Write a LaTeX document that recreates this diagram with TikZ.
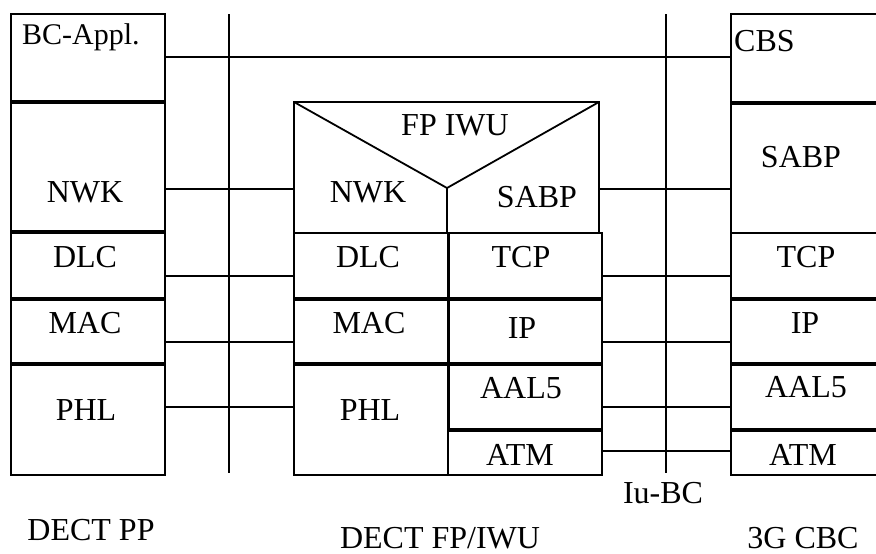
\documentclass[tikz,border=0pt]{standalone}
\usepackage{fontspec}
\setmainfont{Liberation Serif}
\usetikzlibrary{positioning, calc}

\begin{document}
\begin{tikzpicture}[
    x = 1pt, y = -1pt,
    layer/.style = {
      rectangle, draw, line width = 1.6pt, inner sep = 0pt, outer sep = 0pt,
      anchor = north west
    },
    ppcol/.style = {layer, minimum width = 154pt},
    fpcol/.style = {layer, minimum width = 154pt},
    cbcol/.style = {layer, minimum width = 200pt},
    lbl/.style = {
      inner sep = 0pt, anchor = base, font = \fontsize{32}{38}\selectfont
    },
    link/.style = {line width = 1.4pt},
    sep/.style = {line width = 3.6pt},
    ]

    \clip (0,0) rectangle (876,554);

    % DECT PP stack
    \node  [ppcol, minimum height = 88pt]  (ppBC)  at (11,14)  {};
    \node  [ppcol, minimum height = 130pt, below = 0pt of ppBC]  (ppNWK)  {};
    \node  [ppcol, minimum height = 67pt, below = 0pt of ppNWK]  (ppDLC)  {};
    \node  [ppcol, minimum height = 65pt, below = 0pt of ppDLC]  (ppMAC)  {};
    \node  [ppcol, minimum height = 111pt, below = 0pt of ppMAC]  (ppPHL)  {};

    % DECT FP/IWU stack
    \node  [layer, minimum width = 305pt, minimum height = 131pt]  (fpIWU)  at (294,102)  {};
    \node  [fpcol, minimum height = 66pt]  (fpDLC)  at (294,233)  {};
    \node  [fpcol, minimum height = 65pt, below = 0pt of fpDLC]  (fpMAC)  {};
    \node  [fpcol, minimum height = 111pt, below = 0pt of fpMAC]  (fpPHL)  {};
    \node  [fpcol, minimum height = 66pt]  (fpTCP)  at (448,233)  {};
    \node  [fpcol, minimum height = 65pt, below = 0pt of fpTCP]  (fpIP)  {};
    \node  [fpcol, minimum height = 66pt, below = 0pt of fpIP]  (fpAAL)  {};
    \node  [fpcol, minimum height = 45pt, below = 0pt of fpAAL]  (fpATM)  {};
    \coordinate  (fpV)  at (447,188);
    \draw  [line width = 1.8pt]  (fpIWU.north west) -- (fpV) -- (fpIWU.north east);
    \draw  [line width = 1.8pt]  (fpV) -- (fpV |- fpIWU.south);

    % 3G CBC stack
    \node  [cbcol, minimum height = 89pt]  (cbCBS)  at (731,14)  {};
    \node  [cbcol, minimum height = 130pt, below = 0pt of cbCBS]  (cbSABP)  {};
    \node  [cbcol, minimum height = 66pt, below = 0pt of cbSABP]  (cbTCP)  {};
    \node  [cbcol, minimum height = 65pt, below = 0pt of cbTCP]  (cbIP)  {};
    \node  [cbcol, minimum height = 66pt, below = 0pt of cbIP]  (cbAAL)  {};
    \node  [cbcol, minimum height = 45pt, below = 0pt of cbAAL]  (cbATM)  {};

    % thick layer borders
    \foreach \n in {ppBC, ppNWK, ppDLC, ppMAC, fpDLC, fpMAC, fpTCP, fpIP, fpAAL, cbCBS, cbTCP, cbIP, cbAAL}
    \draw  [sep]  (\n.south west) -- (\n.south east);
    \draw  [line width = 3pt]  (fpTCP.north west) -- (fpAAL.south west);

    % interfaces
    \coordinate  (ifPP)  at (229,14);
    \coordinate  (ifIu)  at (666,14);
    \draw  [link]  (ifPP) -- ++(0,459);
    \draw  [link]  (ifIu) -- ++(0,459);

    % peer links
    \draw  [link]  (ppBC.east |- 0,57) -- (cbCBS.west |- 0,57);
    \foreach \a/\b/\y in {ppNWK/fpIWU/189, ppDLC/fpDLC/276, ppMAC/fpMAC/342, ppPHL/fpPHL/407}
    \draw  [link]  (\a.east |- 0,\y) -- (\b.west |- 0,\y);
    \foreach \a/\b/\y in {fpIWU/cbSABP/189, fpTCP/cbTCP/276, fpIP/cbIP/342, fpAAL/cbAAL/407, fpATM/cbATM/451}
    \draw  [link]  (\a.east |- 0,\y) -- (\b.west |- 0,\y);

    % labels
    \node  [lbl, anchor = base west, font = \fontsize{30}{36}\selectfont]  (ppBCt)  at (22,44)  {BC-Appl.};
    \node  [lbl]  (ppNWKt)  at (85,202)  {NWK};
    \node  [lbl]  (ppDLCt)  at (85,267)  {DLC};
    \node  [lbl]  (ppMACt)  at (85,333)  {MAC};
    \node  [lbl]  (ppPHLt)  at (86,420)  {PHL};

    \node  [lbl]  (fpIWUt)  at (455,135)  {FP IWU};
    \node  [lbl]  (fpNWKt)  at (368,202)  {NWK};
    \node  [lbl]  (fpSABPt)  at (537,207)  {SABP};
    \node  [lbl]  (fpDLCt)  at (368,267)  {DLC};
    \node  [lbl]  (fpMACt)  at (369,333)  {MAC};
    \node  [lbl]  (fpPHLt)  at (370,420)  {PHL};
    \node  [lbl]  (fpTCPt)  at (521,267)  {TCP};
    \node  [lbl]  (fpIPt)  at (522,338)  {IP};
    \node  [lbl]  (fpAALt)  at (521,398)  {AAL5};
    \node  [lbl]  (fpATMt)  at (520,465)  {ATM};

    \node  [lbl, anchor = base west]  (cbCBSt)  at (734,51)  {CBS};
    \node  [lbl]  (cbSABPt)  at (801,167)  {SABP};
    \node  [lbl]  (cbTCPt)  at (806,267)  {TCP};
    \node  [lbl]  (cbIPt)  at (805,333)  {IP};
    \node  [lbl]  (cbAALt)  at (806,397)  {AAL5};
    \node  [lbl]  (cbATMt)  at (803,465)  {ATM};

    \node  [lbl]  (ifIut)  at (663,503)  {Iu-BC};
    \node  [lbl]  (ppname)  at (91,540)  {DECT PP};
    \node  [lbl]  (fpname)  at (440,548)  {DECT FP/IWU};
    \node  [lbl]  (cbname)  at (803,548)  {3G CBC};
\end{tikzpicture}
\end{document}
